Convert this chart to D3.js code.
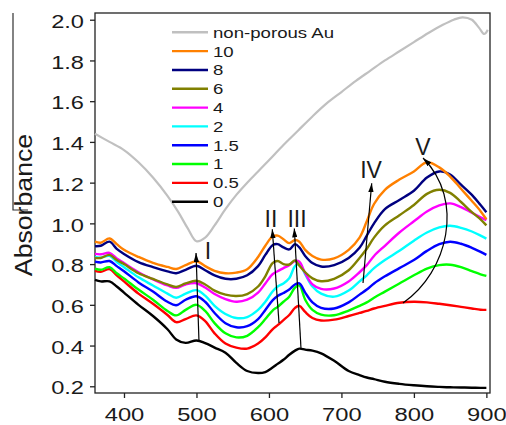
<!DOCTYPE html>
<html>
<head>
<meta charset="utf-8">
<script src="https://cdn.jsdelivr.net/npm/d3@7"></script>
<style>
  body { margin: 0; background: #fff; }
  svg { display: block; }
  text { font-family: "Liberation Sans", Arial, sans-serif; fill: #1a1a1a; }
</style>
</head>
<body>
<svg id="chart" width="506" height="425"></svg>
<script>
// Wavelength grid (nm) shared by the deposition-time series
const wavelengths = [360,368,380,390,400,420,440,460,472,485,500,512,525,540,555,570,585,595,605,612,620,628,636,642,650,660,672,690,710,725,735,745,760,780,800,818,835,850,865,880,892,900];

// Absorbance for each series
const abs10  = [0.91,0.905,0.926,0.898,0.87,0.835,0.806,0.786,0.776,0.795,0.814,0.79,0.767,0.755,0.758,0.775,0.835,0.89,0.935,0.94,0.922,0.903,0.918,0.91,0.87,0.84,0.822,0.828,0.87,0.93,1.01,1.095,1.165,1.215,1.255,1.30,1.275,1.23,1.17,1.11,1.06,1.02];
const abs8   = [0.888,0.89,0.91,0.875,0.85,0.81,0.785,0.764,0.755,0.772,0.792,0.77,0.745,0.728,0.728,0.745,0.79,0.845,0.893,0.898,0.882,0.872,0.898,0.882,0.84,0.805,0.788,0.795,0.83,0.88,0.94,1.0,1.07,1.115,1.16,1.225,1.255,1.24,1.19,1.14,1.09,1.055];
const abs6   = [0.83,0.83,0.845,0.82,0.80,0.755,0.727,0.70,0.688,0.705,0.718,0.70,0.67,0.65,0.643,0.653,0.69,0.74,0.805,0.815,0.80,0.798,0.818,0.792,0.76,0.73,0.716,0.728,0.77,0.83,0.875,0.93,0.99,1.04,1.09,1.145,1.165,1.15,1.105,1.055,1.02,0.99];
const abs4   = [0.85,0.848,0.855,0.828,0.805,0.76,0.725,0.695,0.683,0.70,0.706,0.685,0.653,0.628,0.615,0.625,0.66,0.705,0.75,0.765,0.78,0.795,0.815,0.812,0.755,0.70,0.678,0.68,0.715,0.76,0.795,0.84,0.89,0.955,1.01,1.058,1.088,1.098,1.08,1.052,1.03,1.015];
const abs2   = [0.835,0.832,0.84,0.81,0.785,0.735,0.695,0.655,0.635,0.655,0.672,0.645,0.595,0.555,0.535,0.54,0.575,0.615,0.665,0.69,0.705,0.73,0.79,0.80,0.75,0.69,0.655,0.64,0.67,0.715,0.745,0.78,0.82,0.865,0.915,0.955,0.98,0.988,0.978,0.96,0.94,0.925];
const abs1_5 = [0.812,0.808,0.815,0.79,0.765,0.71,0.665,0.615,0.598,0.625,0.642,0.615,0.56,0.51,0.49,0.495,0.53,0.575,0.622,0.643,0.658,0.675,0.70,0.705,0.66,0.612,0.585,0.582,0.612,0.65,0.675,0.705,0.74,0.78,0.82,0.865,0.898,0.91,0.90,0.88,0.86,0.845];
const abs1   = [0.778,0.772,0.785,0.755,0.73,0.675,0.625,0.57,0.548,0.575,0.60,0.57,0.51,0.46,0.44,0.448,0.49,0.53,0.572,0.59,0.615,0.64,0.685,0.695,0.625,0.575,0.552,0.549,0.572,0.595,0.612,0.635,0.665,0.705,0.745,0.778,0.795,0.797,0.785,0.765,0.75,0.742];
const abs0_5 = [0.767,0.762,0.775,0.745,0.715,0.655,0.605,0.55,0.515,0.53,0.548,0.52,0.46,0.41,0.39,0.385,0.41,0.44,0.48,0.50,0.525,0.55,0.585,0.595,0.565,0.535,0.523,0.527,0.545,0.56,0.57,0.582,0.595,0.61,0.615,0.612,0.605,0.598,0.59,0.582,0.576,0.575];
const abs0   = [0.722,0.715,0.715,0.69,0.66,0.60,0.545,0.48,0.43,0.413,0.425,0.412,0.39,0.365,0.315,0.275,0.265,0.27,0.292,0.31,0.33,0.355,0.375,0.385,0.38,0.375,0.362,0.325,0.275,0.255,0.243,0.235,0.222,0.212,0.205,0.20,0.197,0.195,0.194,0.193,0.192,0.192];

// Reference film (non-porous gold) on its own grid
const auWavelengths = [360,380,400,420,440,460,475,488,500,512,525,540,555,570,585,600,620,640,660,680,700,720,740,760,780,800,820,840,855,867,880,890,897,902];
const auAbsorbance  = [1.44,1.40,1.36,1.30,1.225,1.135,1.055,0.975,0.912,0.93,0.99,1.07,1.14,1.20,1.255,1.31,1.385,1.455,1.525,1.59,1.645,1.70,1.75,1.80,1.845,1.89,1.935,1.975,2.0,2.012,2.0,1.96,1.93,1.95];

const seriesLabels = ["10","8","6","4","2","1.5","1","0.5","0"];
const seriesColors = ["#ff8000","#000080","#808000","#ff00ff","#00ffff","#0000ff","#00ff00","#ff0000","#000000"];
const seriesValues = [abs10, abs8, abs6, abs4, abs2, abs1_5, abs1, abs0_5, abs0];
const auLabel = "non-porous Au";
const auColor = "#c0c0c0";

const xTicks = [400,500,600,700,800,900];
const yTicks = [0.2,0.4,0.6,0.8,1.0,1.2,1.4,1.6,1.8,2.0];

// Band annotations: label anchor and arrow (tail -> head) in data units
const bandLabels = ["I","II","III","IV","V"];
const bandLabelPos = [[516,0.825],[602.8,0.982],[638.7,0.982],[740.8,1.223],[812.6,1.336]];
const bandArrows = [
  [[503.5,0.417],[499.4,0.854]],
  [[613.9,0.511],[604.6,0.971]],
  [[644.2,0.388],[635.0,0.975]],
  [[729.8,0.707],[741.8,1.197]]
];
// Curved arrow for band V: start, two control points, end
const bandVCurve = [[785,0.609],[847.1,0.761],[870.5,1.115],[812.6,1.321]];

const svg = d3.select("#chart");
const x = d3.scaleLinear().domain([360, 905]).range([95, 490]);
const y = d3.scaleLinear().domain([0.167, 2.033]).range([393, 13]);

const defs = svg.append("defs");
defs.append("marker")
  .attr("id", "head")
  .attr("viewBox", "0 0 10 6")
  .attr("refX", 10).attr("refY", 3)
  .attr("markerWidth", 9).attr("markerHeight", 5.4)
  .attr("markerUnits", "userSpaceOnUse")
  .attr("orient", "auto")
  .append("path").attr("d", "M0,0L10,3L0,6Z").attr("fill", "#000");

// stray panel rule at the far left
svg.append("path")
  .attr("d", "M13,13V210H28")
  .attr("fill", "none").attr("stroke", "#333").attr("stroke-width", 1.2);

// axes
const xAxis = svg.append("g").attr("transform", "translate(0,393)")
  .call(d3.axisBottom(x).tickValues(xTicks).tickSize(5).tickSizeOuter(0).tickFormat(d3.format("d")));
xAxis.select(".domain").remove();
xAxis.selectAll("line").attr("stroke", "#222").attr("stroke-width", 1.3);
xAxis.selectAll("text")
  .attr("y", 0).attr("dy", 0)
  .attr("transform", "translate(0,28.3) scale(1.32,1)")
  .style("font-size", "18px").style("fill", "#1a1a1a")
  .style("font-family", "'Liberation Sans', Arial, sans-serif");

const yAxis = svg.append("g").attr("transform", "translate(95,0)")
  .call(d3.axisLeft(y).tickValues(yTicks).tickSize(5).tickSizeOuter(0).tickFormat(d3.format(".1f")));
yAxis.select(".domain").remove();
yAxis.selectAll("line").attr("stroke", "#222").attr("stroke-width", 1.3);
yAxis.selectAll("text")
  .attr("x", 0).attr("dy", "0.44em")
  .attr("transform", "translate(-11,0) scale(1.35,1)")
  .style("font-size", "17.5px").style("fill", "#1a1a1a")
  .style("font-family", "'Liberation Sans', Arial, sans-serif");

// frame
svg.append("rect")
  .attr("x", x.range()[0]).attr("y", y.range()[1])
  .attr("width", x.range()[1] - x.range()[0])
  .attr("height", y.range()[0] - y.range()[1])
  .attr("fill", "none").attr("stroke", "#222").attr("stroke-width", 1.3);

// axis title
svg.append("text")
  .attr("transform", "translate(32,205) rotate(-90) scale(1.16,1)")
  .attr("text-anchor", "middle")
  .style("font-size", "23px")
  .text("Absorbance");

const line = d3.line().curve(d3.curveCatmullRom.alpha(0.5));

// spectra
svg.append("path")
  .attr("d", line(auWavelengths.map((w, i) => [x(w), y(auAbsorbance[i])])))
  .attr("fill", "none").attr("stroke", auColor).attr("stroke-width", 2.2);

for (let s = seriesValues.length - 1; s >= 0; s--) {
  svg.append("path")
    .attr("d", line(wavelengths.map((w, i) => [x(w), y(seriesValues[s][i])])))
    .attr("fill", "none")
    .attr("stroke", seriesColors[s])
    .attr("stroke-width", 2.4)
    .attr("stroke-linejoin", "round");
}

// legend
const legendItems = [{ label: auLabel, color: auColor }]
  .concat(seriesLabels.map((l, i) => ({ label: l, color: seriesColors[i] })));
const legend = svg.append("g");
legendItems.forEach((d, i) => {
  const ly = 32.3 + i * 18.82;
  legend.append("line")
    .attr("x1", 172).attr("x2", 208).attr("y1", ly).attr("y2", ly)
    .attr("stroke", d.color).attr("stroke-width", 2.4);
  legend.append("text")
    .attr("transform", `translate(213,${ly + 5.4}) scale(1.33,1)`)
    .style("font-size", "14px")
    .text(d.label);
});

// band arrows
bandArrows.forEach(([a, b]) => {
  svg.append("line")
    .attr("x1", x(a[0])).attr("y1", y(a[1]))
    .attr("x2", x(b[0])).attr("y2", y(b[1]))
    .attr("stroke", "#000").attr("stroke-width", 1.2)
    .attr("marker-end", "url(#head)");
});
const [p0, p1, p2, p3] = bandVCurve;
svg.append("path")
  .attr("d", `M${x(p0[0])},${y(p0[1])}C${x(p1[0])},${y(p1[1])} ${x(p2[0])},${y(p2[1])} ${x(p3[0])},${y(p3[1])}`)
  .attr("fill", "none").attr("stroke", "#000").attr("stroke-width", 1.2)
  .attr("marker-end", "url(#head)");

// band labels
bandLabels.forEach((t, i) => {
  svg.append("text")
    .attr("x", x(bandLabelPos[i][0])).attr("y", y(bandLabelPos[i][1]))
    .attr("text-anchor", "middle")
    .style("font-size", "23px")
    .text(t);
});
</script>
</body>
</html>
